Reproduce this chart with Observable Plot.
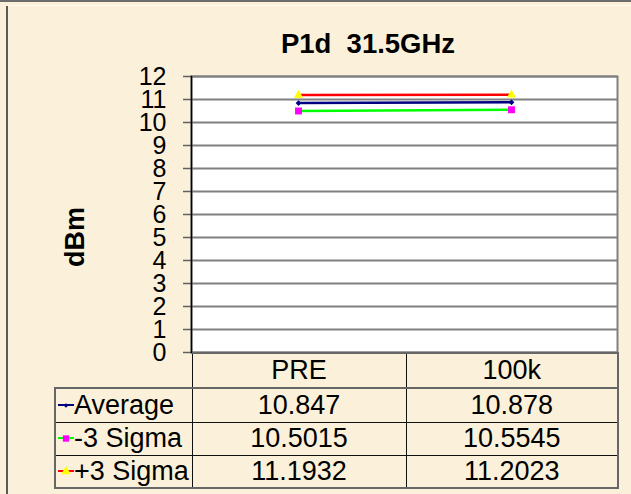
<!DOCTYPE html>
<html>
<head>
<meta charset="utf-8">
<script src="https://cdn.jsdelivr.net/npm/d3@7"></script>
<script src="https://cdn.jsdelivr.net/npm/@observablehq/plot@0.6"></script>
<style>
  html, body { margin: 0; padding: 0; }
  body { width: 631px; height: 494px; overflow: hidden; background: #FBF1DA; font-family: "Liberation Sans", Arial, sans-serif; }
  #wrap { position: relative; width: 631px; height: 494px; }
  #topline { position: absolute; left: 0; top: 0; width: 631px; height: 2px; background: #6b6b6b; }
  #topline2 { position: absolute; left: 7px; top: 5px; width: 624px; height: 1px; background: #fffaf0; }
  #leftline { position: absolute; left: 6px; top: 6px; width: 2px; height: 488px; background: #5a5a5a; }
  #title { position: absolute; left: 168px; width: 400px; top: 30px; text-align: center; font-weight: bold; font-size: 27.5px; line-height: 27px; color: #000; white-space: pre; }
  #ylabel { position: absolute; left: 75px; top: 237px; transform: translate(-50%, -50%) rotate(-90deg); font-weight: bold; font-size: 27px; line-height: 27px; white-space: nowrap; color: #000; }
  #chart { position: absolute; left: 0; top: 0; }
  #chart svg g[aria-label="y-axis tick label"] text { font-size: 25px !important; }
  table { position: absolute; left: 54px; top: 352px; border-collapse: collapse; table-layout: fixed; width: 563px; font-size: 27px; color: #000; }
  td { padding: 0; vertical-align: middle; text-align: center; border: 1px solid #111; white-space: nowrap; overflow: visible; }
  td.name { text-align: left; padding-left: 1px; }
  td.blank { border: none; border-right: 1px solid #111; }
  tr.head td { border-top: 2px solid #666; border-bottom: 2px solid #666; }
  tr.head td.blank { border-top: none; border-left: none; }
  tr:last-child td { border-bottom: 2px solid #666; }
  td.first { border-left: 2px solid #666; }
  td.last { border-right: 2px solid #666; }
  svg.key { vertical-align: middle; margin-right: 0px; position: relative; top: -2px; }
</style>
</head>
<body>
<div id="wrap">
  <div id="topline"></div>
  <div id="topline2"></div>
  <div id="leftline"></div>
  <div id="chart"></div>
  <div id="title"></div>
  <div id="ylabel"></div>
</div>
<script>
const titleText = "P1d  31.5GHz";
const yLabel = "dBm";
const categories = ["PRE", "100k"];
const seriesNames = ["Average", "-3 Sigma", "+3 Sigma"];
const averageValues = [10.847, 10.878];
const minus3SigmaValues = [10.5015, 10.5545];
const plus3SigmaValues = [11.1932, 11.2023];
const yTicks = [0, 1, 2, 3, 4, 5, 6, 7, 8, 9, 10, 11, 12];
const valueLabels = [["10.847", "10.878"], ["10.5015", "10.5545"], ["11.1932", "11.2023"]];

const lineColors = ["#000080", "#00FF00", "#FF0000"];
const markerColors = ["#000080", "#FF00FF", "#FFFF00"];
const markerSymbols = ["diamond2", "square", "triangle"];
const markerRadii = [2.6, 3.9, 3.4];

const seriesValues = [averageValues, minus3SigmaValues, plus3SigmaValues];
const data = seriesNames.flatMap((s, i) => categories.map((c, j) => ({series: s, cat: c, value: seriesValues[i][j], idx: i})));

document.getElementById("title").textContent = titleText;
document.getElementById("ylabel").textContent = yLabel;

const marks = [
  Plot.frame({fill: "white", stroke: "none"}),
  Plot.gridY(yTicks, {stroke: "#808080", strokeOpacity: 1, strokeWidth: 2}),
  Plot.frame({stroke: "#808080", strokeWidth: 2}),
  Plot.axisY(yTicks, {tickSize: 8, tickPadding: 17, fontSize: 25, stroke: "#606060", fill: "black", strokeWidth: 1.5, label: null}),
  Plot.frame({anchor: "left", stroke: "black", strokeWidth: 1.5})
];
seriesNames.forEach((s, i) => {
  const d = data.filter(r => r.idx === i);
  marks.push(Plot.line(d, {x: "cat", y: "value", stroke: lineColors[i], strokeWidth: 2.5}));
});
seriesNames.forEach((s, i) => {
  const d = data.filter(r => r.idx === i);
  marks.push(Plot.dot(d, {x: "cat", y: "value", symbol: () => markerSymbols[i], fill: markerColors[i], stroke: "none", r: markerRadii[i]}));
});

const chart = Plot.plot({
  width: 631,
  height: 360,
  marginTop: 76,
  marginBottom: 8,
  marginLeft: 191,
  marginRight: 14,
  style: {background: "transparent", fontFamily: "'Liberation Sans', Arial, sans-serif", fontSize: "25px", color: "black", overflow: "visible"},
  x: {type: "point", domain: categories, padding: 0.5, axis: null},
  y: {domain: [0, 12], axis: null},
  symbol: {type: "identity"},
  marks
});
document.getElementById("chart").appendChild(chart);
chart.querySelectorAll("text").forEach(t => t.style.fontSize = "25px");

// data table
function keySvg(i) {
  const ns = "http://www.w3.org/2000/svg";
  const svg = document.createElementNS(ns, "svg");
  svg.setAttribute("class", "key");
  svg.setAttribute("width", "17");
  svg.setAttribute("height", "12");
  const line = document.createElementNS(ns, "line");
  line.setAttribute("x1", 1); line.setAttribute("x2", 17);
  line.setAttribute("y1", 6); line.setAttribute("y2", 6);
  line.setAttribute("stroke", lineColors[i]); line.setAttribute("stroke-width", 2);
  svg.appendChild(line);
  const sym = d3.symbol(i === 0 ? d3.symbolDiamond2 : i === 1 ? d3.symbolSquare : d3.symbolTriangle, i === 0 ? 14 : 40)();
  const p = document.createElementNS(ns, "path");
  p.setAttribute("d", sym);
  p.setAttribute("transform", "translate(9,6.5)");
  p.setAttribute("fill", markerColors[i]);
  svg.appendChild(p);
  return svg;
}
const table = document.createElement("table");
const cg = document.createElement("colgroup");
[137, 214, 212].forEach(w => { const c = document.createElement("col"); c.style.width = w + "px"; cg.appendChild(c); });
table.appendChild(cg);
const head = document.createElement("tr");
head.className = "head";
head.style.height = "35px";
const blank = document.createElement("td"); blank.className = "blank"; head.appendChild(blank);
categories.forEach((c, j) => { const td = document.createElement("td"); td.textContent = c; if (j === categories.length - 1) td.className = "last"; head.appendChild(td); });
table.appendChild(head);
const rowHeights = [34, 33, 33];
seriesNames.forEach((s, i) => {
  const tr = document.createElement("tr");
  tr.style.height = rowHeights[i] + "px";
  const nameTd = document.createElement("td");
  nameTd.className = "name first";
  nameTd.appendChild(keySvg(i));
  nameTd.appendChild(document.createTextNode(s));
  tr.appendChild(nameTd);
  valueLabels[i].forEach((v, j) => { const td = document.createElement("td"); td.textContent = v; if (j === valueLabels[i].length - 1) td.className = "last"; tr.appendChild(td); });
  table.appendChild(tr);
});
document.getElementById("wrap").appendChild(table);
</script>
</body>
</html>
